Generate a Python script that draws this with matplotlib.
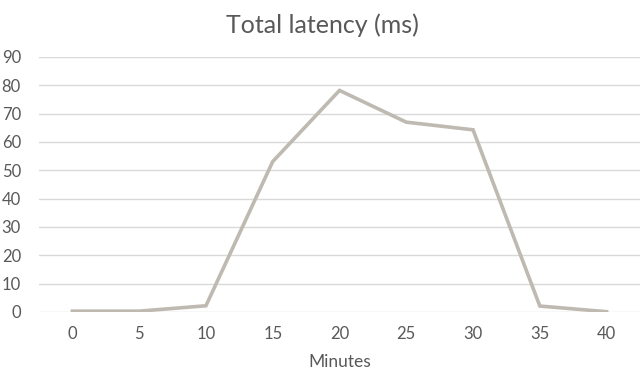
import matplotlib.pyplot as plt

minutes = [0, 5, 10, 15, 20, 25, 30, 35, 40]
latency = [0.3, 0.3, 2.2, 53.1, 78.2, 67.0, 64.3, 2.1, 0.1]
y_ticks = [0, 10, 20, 30, 40, 50, 60, 70, 80, 90]

plt.rcParams['font.family'] = ['Lato', 'DejaVu Sans']

fig = plt.figure(figsize=(6.44, 3.75), dpi=100)
ax = fig.add_axes([39 / 644, 1 - 312 / 375, 601 / 644, 255 / 375])

pos = list(range(len(minutes)))
ax.plot(pos, latency, color='#BFBAB1', linewidth=2.6, solid_joinstyle='miter', zorder=3)

ax.set_xlim(-0.5, len(minutes) - 0.5)
ax.set_ylim(0, 90)
ax.set_xticks(pos)
ax.set_xticklabels([str(m) for m in minutes])
ax.set_yticks(y_ticks)

for y in y_ticks:
    ax.axhline(y, color='#D9D9D9', linewidth=1.0, zorder=1)

for s in ax.spines.values():
    s.set_visible(False)
ax.tick_params(length=0, labelsize=12, colors='#595959')
ax.tick_params(axis='x', pad=10)
ax.tick_params(axis='y', pad=13)

ax.set_xlabel('Minutes', fontsize=12.5, color='#595959', labelpad=9)
fig.suptitle('Total latency (ms)', fontsize=18, color='#595959', y=0.965)

fig.savefig('out.png', dpi=100)
